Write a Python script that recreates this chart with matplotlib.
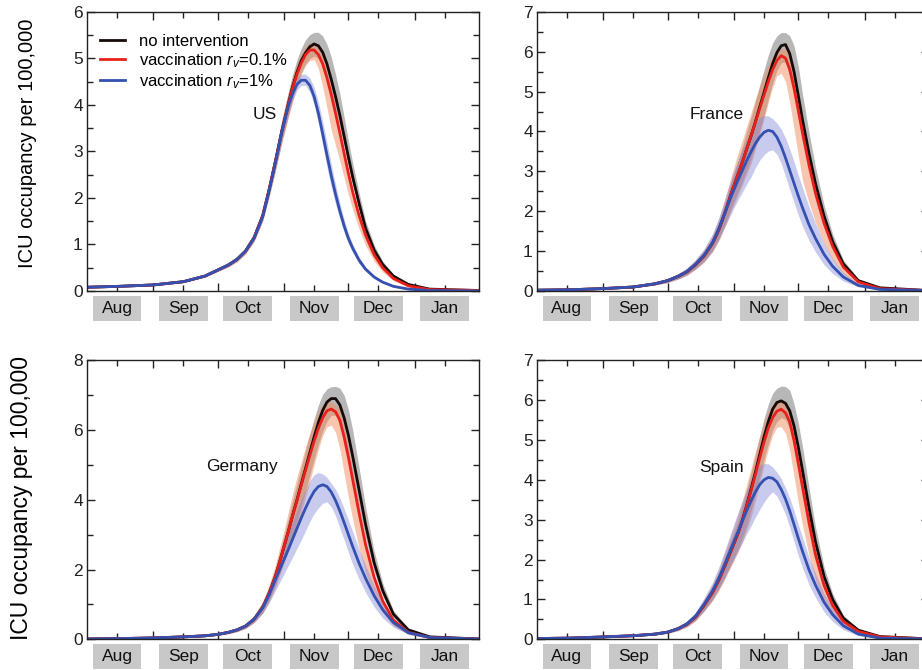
import numpy as np
import matplotlib
matplotlib.use('Agg')
import matplotlib.pyplot as plt
from matplotlib.patches import Rectangle
from matplotlib.ticker import MultipleLocator, FixedLocator

plt.rcParams['font.family'] = ['Liberation Sans', 'DejaVu Sans']
plt.rcParams['mathtext.fontset'] = 'custom'
plt.rcParams['mathtext.rm'] = 'Liberation Sans'
plt.rcParams['mathtext.it'] = 'Liberation Sans:italic'

# days since Aug 1
days = [0, 15, 31, 45, 55, 61, 66, 70, 74, 78, 82, 85, 88, 91, 94, 96, 98, 100, 102, 104,
        106, 108, 110, 112, 114, 116, 118, 120, 122, 124, 127, 130, 134, 138, 143, 150, 160, 183]

month_names = ['Aug', 'Sep', 'Oct', 'Nov', 'Dec', 'Jan']
month_mid = [14, 45, 75, 106, 136, 167]
month_start = [31, 61, 92, 122, 153]

# US
us_none = [0.08, 0.10, 0.13, 0.20, 0.32, 0.45, 0.56, 0.68, 0.86, 1.15, 1.62, 2.18, 2.80, 3.45, 4.03, 4.40, 4.70, 4.95, 5.12, 5.25,
           5.31, 5.27, 5.13, 4.88, 4.55, 4.18, 3.78, 3.33, 2.88, 2.45, 1.88, 1.35, 0.88, 0.57, 0.32, 0.14, 0.04, 0.01]
us_none_lo = [0.074, 0.093, 0.12, 0.186, 0.30, 0.42, 0.52, 0.63, 0.80, 1.07, 1.51, 2.03, 2.60, 3.21, 3.77, 4.14, 4.44, 4.70, 4.88, 5.00,
              5.05, 5.00, 4.86, 4.60, 4.26, 3.90, 3.52, 3.10, 2.68, 2.28, 1.75, 1.26, 0.82, 0.53, 0.30, 0.13, 0.037, 0.01]
us_none_hi = [0.086, 0.107, 0.14, 0.214, 0.34, 0.48, 0.60, 0.73, 0.92, 1.23, 1.73, 2.33, 3.00, 3.69, 4.28, 4.66, 4.97, 5.22, 5.40, 5.51,
              5.56, 5.56, 5.48, 5.30, 5.03, 4.66, 4.24, 3.74, 3.23, 2.75, 2.11, 1.51, 0.99, 0.64, 0.36, 0.16, 0.045, 0.011]
us_v01 = [0.08, 0.10, 0.13, 0.20, 0.32, 0.45, 0.56, 0.68, 0.86, 1.15, 1.62, 2.18, 2.80, 3.44, 4.01, 4.37, 4.66, 4.90, 5.08, 5.18,
          5.18, 5.08, 4.88, 4.58, 4.22, 3.82, 3.40, 2.96, 2.53, 2.13, 1.62, 1.20, 0.78, 0.50, 0.27, 0.11, 0.03, 0.01]
us_v01_lo = [0.074, 0.093, 0.12, 0.186, 0.30, 0.42, 0.52, 0.63, 0.80, 1.07, 1.51, 2.03, 2.60, 3.20, 3.73, 4.07, 4.38, 4.65, 4.85, 4.96,
             4.97, 4.78, 4.39, 3.94, 3.46, 3.13, 2.79, 2.43, 2.07, 1.75, 1.33, 0.98, 0.64, 0.41, 0.22, 0.09, 0.024, 0.008]
us_v01_hi = [0.086, 0.107, 0.14, 0.214, 0.34, 0.48, 0.60, 0.73, 0.92, 1.23, 1.73, 2.33, 3.00, 3.68, 4.29, 4.63, 4.89, 5.10, 5.26, 5.34,
             5.34, 5.23, 5.03, 4.72, 4.35, 3.94, 3.50, 3.05, 2.61, 2.19, 1.67, 1.24, 0.80, 0.52, 0.28, 0.11, 0.031, 0.01]
us_v1 = [0.08, 0.10, 0.13, 0.20, 0.32, 0.45, 0.56, 0.68, 0.86, 1.14, 1.60, 2.16, 2.78, 3.43, 3.98, 4.25, 4.44, 4.53, 4.53, 4.42,
         4.18, 3.82, 3.38, 2.92, 2.48, 2.08, 1.72, 1.40, 1.13, 0.92, 0.66, 0.47, 0.30, 0.19, 0.10, 0.04, 0.01, 0.0]
us_v1_lo = [0.076, 0.095, 0.124, 0.19, 0.30, 0.43, 0.53, 0.65, 0.82, 1.08, 1.52, 2.05, 2.64, 3.26, 3.80, 4.10, 4.32, 4.42, 4.42, 4.28,
            4.00, 3.60, 3.13, 2.66, 2.23, 1.87, 1.55, 1.26, 1.02, 0.83, 0.59, 0.42, 0.27, 0.17, 0.09, 0.036, 0.009, 0.0]
us_v1_hi = [0.084, 0.105, 0.137, 0.21, 0.34, 0.47, 0.59, 0.71, 0.90, 1.20, 1.68, 2.27, 2.92, 3.60, 4.16, 4.42, 4.59, 4.66, 4.66, 4.58,
            4.38, 4.06, 3.65, 3.19, 2.73, 2.29, 1.89, 1.54, 1.24, 1.01, 0.73, 0.52, 0.33, 0.21, 0.11, 0.044, 0.011, 0.0]

# France
fr_none = [0.02, 0.03, 0.06, 0.10, 0.18, 0.26, 0.37, 0.48, 0.66, 0.88, 1.20, 1.55, 2.00, 2.50, 2.95, 3.25, 3.58, 3.90, 4.25, 4.62,
           4.98, 5.35, 5.70, 5.98, 6.15, 6.18, 5.95, 5.50, 4.90, 4.28, 3.45, 2.70, 1.88, 1.24, 0.68, 0.26, 0.08, 0.01]
fr_none_lo = [0.017, 0.026, 0.051, 0.085, 0.15, 0.22, 0.31, 0.41, 0.56, 0.75, 1.02, 1.32, 1.70, 2.12, 2.51, 2.76, 3.04, 3.32, 3.65, 4.02,
              4.40, 4.82, 5.21, 5.53, 5.72, 5.75, 5.40, 4.90, 4.31, 3.77, 3.04, 2.38, 1.65, 1.09, 0.60, 0.23, 0.07, 0.01]
fr_none_hi = [0.022, 0.034, 0.067, 0.112, 0.20, 0.29, 0.41, 0.54, 0.74, 0.99, 1.34, 1.74, 2.24, 2.80, 3.30, 3.64, 4.01, 4.37, 4.76, 5.17,
              5.55, 5.92, 6.22, 6.40, 6.48, 6.48, 6.40, 6.15, 5.63, 4.92, 3.97, 3.11, 2.16, 1.43, 0.78, 0.30, 0.09, 0.012]
fr_v01 = [0.02, 0.03, 0.06, 0.10, 0.18, 0.26, 0.37, 0.48, 0.66, 0.88, 1.20, 1.55, 2.00, 2.50, 2.95, 3.25, 3.58, 3.90, 4.24, 4.58,
          4.92, 5.25, 5.55, 5.78, 5.90, 5.84, 5.55, 5.08, 4.52, 3.95, 3.15, 2.45, 1.70, 1.12, 0.60, 0.23, 0.06, 0.01]
fr_v01_lo = [0.016, 0.025, 0.049, 0.082, 0.15, 0.21, 0.30, 0.39, 0.54, 0.72, 0.98, 1.27, 1.64, 2.05, 2.42, 2.67, 2.94, 3.20, 3.56, 3.94,
             4.33, 4.73, 5.11, 5.40, 5.46, 5.26, 4.72, 4.06, 3.39, 2.77, 2.21, 1.72, 1.19, 0.78, 0.42, 0.16, 0.042, 0.007]
fr_v01_hi = [0.024, 0.035, 0.071, 0.118, 0.21, 0.31, 0.44, 0.57, 0.78, 1.04, 1.42, 1.83, 2.36, 2.95, 3.48, 3.80, 4.15, 4.48, 4.83, 5.13,
             5.41, 5.67, 5.88, 6.01, 6.08, 6.07, 5.83, 5.33, 4.75, 4.15, 3.31, 2.57, 1.79, 1.18, 0.63, 0.24, 0.063, 0.01]
fr_v1 = [0.02, 0.03, 0.06, 0.10, 0.18, 0.26, 0.37, 0.49, 0.67, 0.90, 1.22, 1.58, 2.00, 2.42, 2.80, 3.04, 3.28, 3.50, 3.70, 3.86,
         3.98, 4.03, 4.00, 3.86, 3.63, 3.34, 3.02, 2.70, 2.38, 2.08, 1.66, 1.32, 0.92, 0.62, 0.35, 0.14, 0.04, 0.01]
fr_v1_lo = [0.016, 0.025, 0.049, 0.082, 0.15, 0.21, 0.30, 0.40, 0.55, 0.74, 1.00, 1.30, 1.64, 1.98, 2.30, 2.49, 2.69, 2.87, 3.10, 3.28,
            3.42, 3.51, 3.54, 3.43, 3.20, 2.87, 2.54, 2.22, 1.90, 1.62, 1.26, 0.98, 0.66, 0.44, 0.25, 0.10, 0.028, 0.007]
fr_v1_hi = [0.024, 0.035, 0.071, 0.118, 0.21, 0.31, 0.44, 0.58, 0.79, 1.06, 1.44, 1.86, 2.36, 2.85, 3.30, 3.56, 3.81, 4.03, 4.22, 4.35,
            4.40, 4.39, 4.32, 4.21, 4.06, 3.84, 3.56, 3.24, 2.90, 2.58, 2.11, 1.70, 1.20, 0.81, 0.46, 0.18, 0.052, 0.013]

# Germany
de_none = [0.01, 0.02, 0.04, 0.07, 0.10, 0.14, 0.20, 0.27, 0.38, 0.58, 0.92, 1.32, 1.82, 2.45, 3.10, 3.56, 4.00, 4.45, 4.90, 5.35,
           5.80, 6.22, 6.56, 6.80, 6.90, 6.90, 6.72, 6.35, 5.85, 5.25, 4.28, 3.30, 2.20, 1.40, 0.72, 0.27, 0.07, 0.01]
de_none_lo = [0.0085, 0.017, 0.034, 0.06, 0.085, 0.12, 0.17, 0.23, 0.32, 0.49, 0.78, 1.12, 1.55, 2.08, 2.64, 3.03, 3.40, 3.83, 4.26, 4.71,
              5.16, 5.60, 5.97, 6.25, 6.42, 6.42, 6.18, 5.78, 5.27, 4.67, 3.77, 2.90, 1.94, 1.23, 0.63, 0.24, 0.06, 0.009]
de_none_hi = [0.011, 0.022, 0.045, 0.078, 0.112, 0.157, 0.22, 0.30, 0.43, 0.65, 1.03, 1.48, 2.04, 2.74, 3.47, 3.99, 4.46, 4.94, 5.41, 5.88,
              6.32, 6.72, 7.02, 7.18, 7.24, 7.25, 7.20, 7.00, 6.58, 6.00, 4.92, 3.80, 2.53, 1.61, 0.83, 0.31, 0.08, 0.012]
de_v01 = [0.01, 0.02, 0.04, 0.07, 0.10, 0.14, 0.20, 0.27, 0.38, 0.58, 0.92, 1.32, 1.82, 2.45, 3.10, 3.55, 3.98, 4.42, 4.85, 5.27,
          5.68, 6.05, 6.35, 6.55, 6.60, 6.52, 6.28, 5.80, 5.22, 4.58, 3.62, 2.72, 1.78, 1.10, 0.55, 0.20, 0.05, 0.01]
de_v01_lo = [0.008, 0.016, 0.033, 0.057, 0.082, 0.115, 0.16, 0.22, 0.31, 0.48, 0.75, 1.08, 1.49, 2.01, 2.54, 2.91, 3.26, 3.62, 4.07, 4.53,
             5.00, 5.45, 5.84, 6.09, 6.14, 5.93, 5.46, 4.76, 4.07, 3.44, 2.61, 1.90, 1.25, 0.77, 0.385, 0.14, 0.035, 0.007]
de_v01_hi = [0.012, 0.024, 0.047, 0.083, 0.118, 0.165, 0.24, 0.32, 0.45, 0.68, 1.09, 1.56, 2.15, 2.89, 3.66, 4.19, 4.66, 5.08, 5.53, 5.90,
             6.25, 6.53, 6.73, 6.81, 6.80, 6.72, 6.59, 6.09, 5.48, 4.81, 3.80, 2.86, 1.87, 1.16, 0.58, 0.21, 0.053, 0.01]
de_v1 = [0.01, 0.02, 0.04, 0.07, 0.10, 0.14, 0.20, 0.27, 0.38, 0.58, 0.90, 1.27, 1.72, 2.15, 2.58, 2.88, 3.18, 3.48, 3.76, 4.02,
         4.24, 4.38, 4.43, 4.38, 4.22, 3.98, 3.68, 3.35, 3.00, 2.66, 2.18, 1.75, 1.25, 0.85, 0.48, 0.19, 0.05, 0.01]
de_v1_lo = [0.008, 0.016, 0.033, 0.057, 0.082, 0.115, 0.16, 0.22, 0.31, 0.48, 0.74, 1.04, 1.41, 1.76, 2.12, 2.36, 2.61, 2.85, 3.12, 3.38,
            3.60, 3.77, 3.90, 3.94, 3.80, 3.54, 3.20, 2.85, 2.49, 2.15, 1.72, 1.35, 0.93, 0.61, 0.35, 0.14, 0.036, 0.007]
de_v1_hi = [0.012, 0.024, 0.047, 0.083, 0.118, 0.165, 0.24, 0.32, 0.45, 0.68, 1.06, 1.50, 2.03, 2.54, 3.04, 3.37, 3.69, 4.00, 4.29, 4.54,
            4.72, 4.78, 4.74, 4.64, 4.47, 4.30, 4.05, 3.75, 3.42, 3.09, 2.58, 2.12, 1.55, 1.07, 0.62, 0.25, 0.065, 0.013]

# Spain
es_none = [0.02, 0.03, 0.06, 0.09, 0.13, 0.18, 0.27, 0.38, 0.56, 0.85, 1.18, 1.50, 1.88, 2.28, 2.68, 3.01, 3.38, 3.78, 4.20, 4.64,
           5.08, 5.46, 5.77, 5.94, 5.98, 5.92, 5.73, 5.35, 4.82, 4.22, 3.30, 2.45, 1.58, 1.00, 0.53, 0.23, 0.07, 0.01]
es_none_lo = [0.017, 0.026, 0.051, 0.077, 0.11, 0.153, 0.23, 0.32, 0.48, 0.72, 1.00, 1.28, 1.60, 1.94, 2.28, 2.56, 2.87, 3.25, 3.65, 4.08,
              4.52, 4.91, 5.25, 5.46, 5.56, 5.51, 5.27, 4.87, 4.34, 3.76, 2.90, 2.16, 1.39, 0.88, 0.47, 0.20, 0.06, 0.009]
es_none_hi = [0.022, 0.034, 0.067, 0.10, 0.146, 0.20, 0.30, 0.43, 0.63, 0.95, 1.32, 1.68, 2.11, 2.55, 3.00, 3.37, 3.77, 4.20, 4.64, 5.10,
              5.54, 5.90, 6.17, 6.30, 6.35, 6.34, 6.25, 5.90, 5.42, 4.82, 3.80, 2.82, 1.82, 1.15, 0.61, 0.26, 0.08, 0.012]
es_v01 = [0.02, 0.03, 0.06, 0.09, 0.13, 0.18, 0.27, 0.38, 0.56, 0.85, 1.18, 1.50, 1.88, 2.28, 2.68, 3.00, 3.36, 3.74, 4.14, 4.55,
          4.95, 5.30, 5.56, 5.72, 5.77, 5.68, 5.45, 4.98, 4.40, 3.80, 2.92, 2.12, 1.35, 0.85, 0.45, 0.20, 0.06, 0.01]
es_v01_lo = [0.016, 0.025, 0.049, 0.074, 0.107, 0.15, 0.22, 0.31, 0.46, 0.70, 0.97, 1.23, 1.54, 1.87, 2.20, 2.46, 2.76, 3.07, 3.48, 3.91,
             4.36, 4.77, 5.12, 5.32, 5.33, 5.17, 4.74, 4.08, 3.43, 2.85, 2.10, 1.48, 0.95, 0.60, 0.32, 0.14, 0.042, 0.007]
es_v01_hi = [0.024, 0.035, 0.071, 0.106, 0.153, 0.21, 0.32, 0.45, 0.66, 1.00, 1.39, 1.77, 2.22, 2.69, 3.16, 3.51, 3.90, 4.30, 4.72, 5.10,
             5.45, 5.72, 5.89, 5.95, 6.00, 5.91, 5.72, 5.23, 4.62, 3.99, 3.07, 2.23, 1.42, 0.89, 0.47, 0.21, 0.063, 0.01]
es_v1 = [0.02, 0.03, 0.06, 0.09, 0.13, 0.18, 0.27, 0.39, 0.58, 0.88, 1.22, 1.55, 1.93, 2.33, 2.72, 2.98, 3.24, 3.48, 3.70, 3.88,
         4.00, 4.06, 4.04, 3.95, 3.76, 3.52, 3.22, 2.88, 2.53, 2.20, 1.74, 1.36, 0.93, 0.62, 0.34, 0.13, 0.03, 0.01]
es_v1_lo = [0.016, 0.025, 0.049, 0.074, 0.107, 0.15, 0.22, 0.32, 0.48, 0.72, 1.00, 1.27, 1.58, 1.91, 2.23, 2.44, 2.66, 2.85, 3.07, 3.26,
            3.44, 3.59, 3.70, 3.59, 3.38, 3.13, 2.80, 2.45, 2.10, 1.78, 1.37, 1.05, 0.69, 0.45, 0.24, 0.094, 0.022, 0.007]
es_v1_hi = [0.024, 0.035, 0.071, 0.106, 0.153, 0.21, 0.32, 0.46, 0.68, 1.04, 1.44, 1.83, 2.28, 2.75, 3.21, 3.49, 3.76, 4.00, 4.22, 4.36,
            4.41, 4.40, 4.32, 4.19, 4.03, 3.80, 3.54, 3.23, 2.88, 2.55, 2.05, 1.65, 1.15, 0.78, 0.44, 0.17, 0.04, 0.013]

BOX_GRAY = '#c8c8c8'
LINE_BLACK = '#150a08'
LINE_RED = '#e8201c'
LINE_BLUE = '#3450b0'

fig = plt.figure(figsize=(9.22, 6.70), dpi=100)

W = 0.4252
H = 0.4166
ax_us = fig.add_axes([0.0944, 0.5657, W, H])
ax_fr = fig.add_axes([0.5824, 0.5657, W, H])
ax_de = fig.add_axes([0.0944, 0.0458, W, H])
ax_es = fig.add_axes([0.5824, 0.0458, W, H])


def draw_panel(ax, series, ymax, ymajor, name, name_x, name_y):
    (c0, c0lo, c0hi), (c1, c1lo, c1hi), (c2, c2lo, c2hi) = series
    ax.fill_between(days, c0lo, c0hi, color='#999999', alpha=0.7, lw=0)
    ax.plot(days, c0, color=LINE_BLACK, lw=2.0, label='no intervention')
    ax.fill_between(days, c1lo, c1hi, color='#f28c60', alpha=0.5, lw=0)
    ax.plot(days, c1, color=LINE_RED, lw=2.0, label='vaccination $r_v$=0.1%')
    ax.fill_between(days, c2lo, c2hi, color='#7c84d8', alpha=0.42, lw=0)
    ax.plot(days, c2, color=LINE_BLUE, lw=2.0, label='vaccination $r_v$=1%')

    ax.set_xlim(0, 183)
    ax.set_ylim(0, ymax)
    ax.yaxis.set_major_locator(MultipleLocator(ymajor))
    ax.yaxis.set_minor_locator(MultipleLocator(ymajor / 2))
    ax.xaxis.set_major_locator(FixedLocator(month_start))
    ax.xaxis.set_minor_locator(FixedLocator(month_mid))
    ax.set_xticklabels([])
    ax.tick_params(which='both', direction='in', top=True, right=True,
                   labelsize=12.5, width=1.0, colors='#222222', pad=3)
    ax.tick_params(which='major', length=6)
    ax.tick_params(which='minor', length=4)
    for s in ax.spines.values():
        s.set_linewidth(1.0)
        s.set_color('#222222')

    # gray month boxes under the axis
    tr = ax.get_xaxis_transform()
    for m, lab in zip(month_mid, month_names):
        ax.add_patch(Rectangle((m - 11.4, -0.108), 22.8, 0.09, transform=tr,
                               facecolor=BOX_GRAY, edgecolor='none', clip_on=False))
        ax.text(m, -0.062, lab, transform=tr, ha='center', va='center',
                fontsize=12.5, color='#111111', clip_on=False)

    ax.text(name_x, name_y, name, ha='right', va='center', fontsize=12.5, color='#111111')


draw_panel(ax_us, [(us_none, us_none_lo, us_none_hi), (us_v01, us_v01_lo, us_v01_hi), (us_v1, us_v1_lo, us_v1_hi)],
           6, 1, 'US', 88.8, 3.8)
draw_panel(ax_fr, [(fr_none, fr_none_lo, fr_none_hi), (fr_v01, fr_v01_lo, fr_v01_hi), (fr_v1, fr_v1_lo, fr_v1_hi)],
           7, 1, 'France', 96.7, 4.43)
draw_panel(ax_de, [(de_none, de_none_lo, de_none_hi), (de_v01, de_v01_lo, de_v01_hi), (de_v1, de_v1_lo, de_v1_hi)],
           8, 2, 'Germany', 89.0, 4.95)
draw_panel(ax_es, [(es_none, es_none_lo, es_none_hi), (es_v01, es_v01_lo, es_v01_hi), (es_v1, es_v1_lo, es_v1_hi)],
           7, 1, 'Spain', 96.7, 4.30)

ax_us.legend(loc='upper left', bbox_to_anchor=(0.0, 0.97), frameon=False, fontsize=12,
             handlelength=1.5, handletextpad=0.8, labelspacing=0.15, borderaxespad=0.4)

fig.text(0.0298, 0.7866, 'ICU occupancy per 100,000', rotation=90, ha='center', va='center', fontsize=14.5)
fig.text(0.0235, 0.256, 'ICU occupancy per 100,000', rotation=90, ha='center', va='center', fontsize=16.5)

fig.savefig('out.png', dpi=100)
